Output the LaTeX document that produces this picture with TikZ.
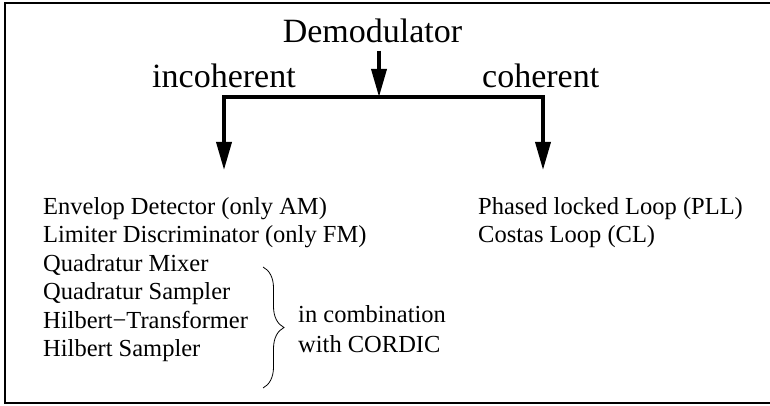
\documentclass[tikz,border=0pt]{standalone}
\usepackage{fontspec}
\setmainfont{Liberation Serif}
\usetikzlibrary{arrows.meta,decorations.pathreplacing}
\begin{document}
\begin{tikzpicture}[x=1pt,y=-1pt,
  big/.style={inner sep=0pt,font=\fontsize{34}{40}\selectfont},
  item/.style={inner sep=0pt,anchor=base west,font=\fontsize{24.5}{29}\selectfont},
  arr/.style={line width=3.6pt,-{Triangle[length=28pt,width=15pt]}},
  frameline/.style={line width=2.5pt}]
\useasboundingbox (0,0) rectangle (770,406);
\draw[frameline] (772,3) -- (5,3) -- (5,403) -- (772,403);
% headings
\node[big,anchor=base] (dem) at (372.5,43) {Demodulator};
\node[big,anchor=base west] (inc) at (152,88) {incoherent};
\node[big,anchor=base west] (coh) at (482,88) {coherent};
% connectors
\coordinate (j) at (379,97);
\coordinate (tl) at (224,170);
\coordinate (tr) at (543,170);
\draw[arr] ([yshift=-7pt]dem.south -| j) -- (j);
\draw[arr] (j) -| (tl);
\draw[arr] (j) -| (tr);
% left list
\node[item] (l1) at (43,214) {Envelop Detector (only AM)};
\node[item] (l2) at (43,242.5) {Limiter Discriminator (only FM)};
\node[item] (l3) at (43,271) {Quadratur Mixer};
\node[item] (l4) at (43,299.5) {Quadratur Sampler};
\node[item] (l5) at (43,328) {Hilbert−Transformer};
\node[item] (l6) at (43,356.5) {Hilbert Sampler};
% brace
\coordinate (bt) at (263,267);
\coordinate (bb) at (263,388);
\draw[line width=0.8pt,decorate,decoration={brace,amplitude=21pt}] (bt) -- (bb);
\node[item] (c1) at (298,322) {in combination};
\node[item] (c2) at (298,352) {with CORDIC};
% right list
\node[item] (r1) at (478,214) {Phased locked Loop (PLL)};
\node[item] (r2) at (478,242.5) {Costas Loop (CL)};
\end{tikzpicture}
\end{document}
